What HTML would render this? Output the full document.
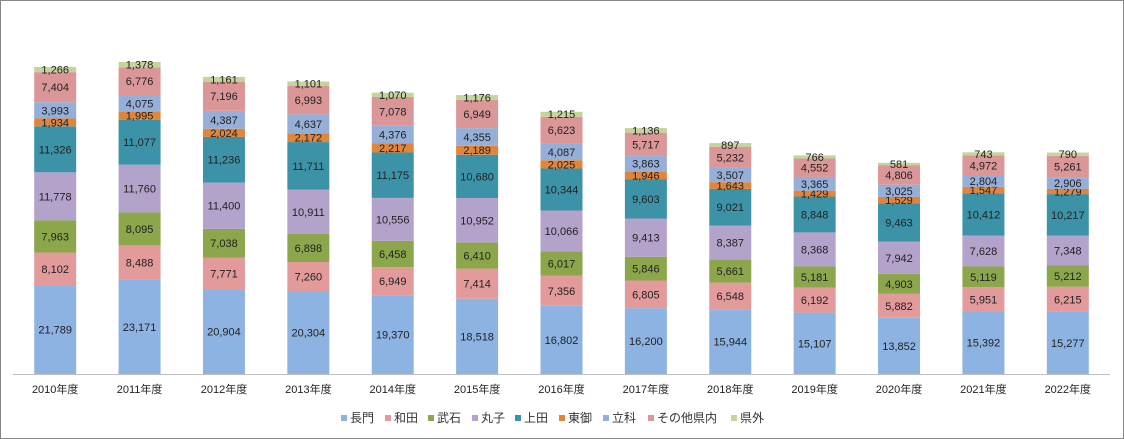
<!DOCTYPE html>
<html><head><meta charset="utf-8">
<style>
html,body{margin:0;padding:0;background:#fff;}
body{width:1124px;height:439px;overflow:hidden;font-family:"Liberation Sans","Noto Sans CJK JP",sans-serif;}
#frame{position:absolute;left:0;top:0;width:1122px;height:437px;border:1px solid #888;}
</style></head>
<body>
<div id="frame"></div>
<svg id="chart" width="1124" height="439" style="position:absolute;left:0;top:0"></svg>
<script>
const categories=["2010年度","2011年度","2012年度","2013年度","2014年度","2015年度","2016年度","2017年度","2018年度","2019年度","2020年度","2021年度","2022年度"];
const seriesNames=["長門","和田","武石","丸子","上田","東御","立科","その他県内","県外"];
const s_nagato=[21789,23171,20904,20304,19370,18518,16802,16200,15944,15107,13852,15392,15277];
const s_wada=[8102,8488,7771,7260,6949,7414,7356,6805,6548,6192,5882,5951,6215];
const s_takeshi=[7963,8095,7038,6898,6458,6410,6017,5846,5661,5181,4903,5119,5212];
const s_maruko=[11778,11760,11400,10911,10556,10952,10066,9413,8387,8368,7942,7628,7348];
const s_ueda=[11326,11077,11236,11711,11175,10680,10344,9603,9021,8848,9463,10412,10217];
const s_tomi=[1934,1995,2024,2172,2217,2189,2025,1946,1643,1429,1529,1547,1279];
const s_tateshina=[3993,4075,4387,4637,4376,4355,4087,3863,3507,3365,3025,2804,2906];
const s_other=[7404,6776,7196,6993,7078,6949,6623,5717,5232,4552,4806,4972,5261];
const s_outside=[1266,1378,1161,1101,1070,1176,1215,1136,897,766,581,743,790];
const seriesData=[s_nagato,s_wada,s_takeshi,s_maruko,s_ueda,s_tomi,s_tateshina,s_other,s_outside];
const colors=["#8DB3E2","#E29A9A","#8BA64B","#B3A2C9","#3C93A8","#E2853A","#95AFD8","#DB9797","#C2D69B"];
const slugs=["nagato","wada","takeshi","maruko","ueda","tomi","tateshina","other-prefecture","outside-prefecture"];

const NS="http://www.w3.org/2000/svg";
const svg=document.getElementById("chart");
const plotL=13,plotR=1110,base=374,pxPerUnit=307/75555;
const band=(plotR-plotL)/categories.length,barW=42;
const xC=i=>plotL+band*(i+0.5);
const yS=v=>v*pxPerUnit;
function mk(tag,attrs){const e=document.createElementNS(NS,tag);for(const k in attrs)e.setAttribute(k,attrs[k]);return e;}

categories.forEach((c,i)=>{
  let cum=0;
  seriesData.forEach((arr,s)=>{
    const v=arr[i];const h=yS(v);const y=base-yS(cum+v);
    const r=mk("rect",{x:xC(i)-barW/2,y:y,width:barW,height:h,fill:colors[s]});
    
    
    svg.appendChild(r);
    const t=mk("text",{x:xC(i),y:y+h/2+4,"text-anchor":"middle","font-size":"11",fill:"#222"});
    t.textContent=v.toLocaleString("en-US");
    
    
    svg.appendChild(t);
    cum+=v;
  });
  const lt=mk("text",{x:xC(i),y:393,"text-anchor":"middle","font-size":"11",fill:"#222"});
  lt.textContent=c;
  
  
  svg.appendChild(lt);
});
const ax=mk("line",{x1:plotL,x2:plotR,y1:base+0.5,y2:base+0.5,stroke:"#BFBFBF","stroke-width":1});


svg.appendChild(ax);

// legend
const legendX=[341,385,428,472,515,559,603,648,731];
seriesNames.forEach((n,s)=>{
  const g=mk("g",{});
  
  
  g.appendChild(mk("rect",{x:legendX[s],y:415,width:6,height:6,fill:colors[s]}));
  const t=mk("text",{x:legendX[s]+9,y:422,"font-size":"12",fill:"#333"});
  t.textContent=n;
  g.appendChild(t);
  svg.appendChild(g);
});
</script>
</body></html>
